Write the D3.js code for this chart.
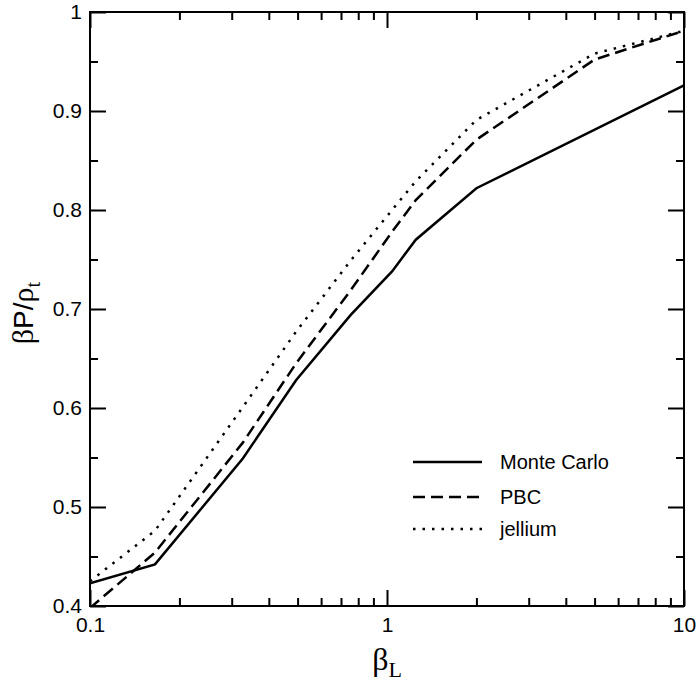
<!DOCTYPE html>
<html>
<head>
<meta charset="utf-8">
<script src="https://cdn.jsdelivr.net/npm/d3@7"></script>
<style>
  html, body { margin: 0; padding: 0; background: #fff; }
  svg { display: block; }
</style>
</head>
<body>
<svg id="chart" width="700" height="681"></svg>
<script>
// ---- data ----
const xMC = [0.1, 0.1655, 0.327, 0.494, 0.755, 1.04, 1.25, 2.0, 10];
const yMC = [0.423, 0.442, 0.549, 0.628, 0.694, 0.738, 0.770, 0.822, 0.926];
const xPBC = [0.1, 0.1655, 0.327, 0.494, 0.755, 1.04, 1.25, 2.0, 5.0, 10];
const yPBC = [0.398, 0.454, 0.565, 0.645, 0.719, 0.778, 0.810, 0.871, 0.952, 0.981];
const xJel = [0.1, 0.1655, 0.327, 0.494, 0.755, 1.04, 1.25, 2.0, 5.0, 10];
const yJel = [0.425, 0.476, 0.601, 0.677, 0.749, 0.800, 0.829, 0.891, 0.958, 0.981];
const seriesNames = ["Monte Carlo", "PBC", "jellium"];
const xMajorTicks = [0.1, 1, 10];
const xTickLabels = ["0.1", "1", "10"];
const yMajorTicks = [0.4, 0.5, 0.6, 0.7, 0.8, 0.9, 1.0];
const yTickLabels = ["0.4", "0.5", "0.6", "0.7", "0.8", "0.9", "1"];
const yMinorTicks = [0.45, 0.55, 0.65, 0.75, 0.85, 0.95];

const svg = d3.select("#chart");
const L = 90, R = 684, T = 12, B = 606;
const x = d3.scaleLog().domain([0.1, 10]).range([L, R]);
const y = d3.scaleLinear().domain([0.4, 1.0]).range([B, T]);

const xMinor = [];
[0.1, 1].forEach(d => { for (let k = 2; k <= 9; k++) xMinor.push(d * k); });

const sans = "'Liberation Sans', Arial, Helvetica, sans-serif";
const serif = "'Liberation Serif', 'Times New Roman', serif";

function styleAxis(g) {
  g.select(".domain").remove();
  g.selectAll(".tick line").attr("stroke", "#000").attr("stroke-width", 2);
  g.selectAll(".tick text").attr("font-family", sans).attr("font-size", 21).attr("fill", "#000");
}

// bottom
svg.append("g").attr("transform", `translate(0,${B})`)
  .call(d3.axisBottom(x).tickValues(xMajorTicks).tickSize(-16).tickPadding(11)
    .tickFormat((d, i) => xTickLabels[i])).call(styleAxis);
svg.append("g").attr("transform", `translate(0,${B})`)
  .call(d3.axisBottom(x).tickValues(xMinor).tickSize(-8).tickFormat("")).call(styleAxis);
// top
svg.append("g").attr("transform", `translate(0,${T})`)
  .call(d3.axisTop(x).tickValues(xMajorTicks).tickSize(-16).tickFormat("")).call(styleAxis);
svg.append("g").attr("transform", `translate(0,${T})`)
  .call(d3.axisTop(x).tickValues(xMinor).tickSize(-8).tickFormat("")).call(styleAxis);
// left
svg.append("g").attr("transform", `translate(${L},0)`)
  .call(d3.axisLeft(y).tickValues(yMajorTicks).tickSize(-16).tickPadding(8)
    .tickFormat((d, i) => yTickLabels[i])).call(styleAxis);
svg.append("g").attr("transform", `translate(${L},0)`)
  .call(d3.axisLeft(y).tickValues(yMinorTicks).tickSize(-8).tickFormat("")).call(styleAxis);
// right
svg.append("g").attr("transform", `translate(${R},0)`)
  .call(d3.axisRight(y).tickValues(yMajorTicks).tickSize(-16).tickFormat("")).call(styleAxis);
svg.append("g").attr("transform", `translate(${R},0)`)
  .call(d3.axisRight(y).tickValues(yMinorTicks).tickSize(-8).tickFormat("")).call(styleAxis);

// frame
svg.append("rect").attr("x", L).attr("y", T).attr("width", R - L).attr("height", B - T)
  .attr("fill", "none").attr("stroke", "#000").attr("stroke-width", 2);

// series
const line = d3.line().x(d => x(d[0])).y(d => y(d[1]));
const series = [
  { name: seriesNames[0], xs: xMC, ys: yMC, dash: null },
  { name: seriesNames[1], xs: xPBC, ys: yPBC, dash: "12,6" },
  { name: seriesNames[2], xs: xJel, ys: yJel, dash: "2.5,7" }
];
svg.append("clipPath").attr("id", "clip").append("rect")
  .attr("x", L).attr("y", T).attr("width", R - L).attr("height", B - T);
series.forEach(s => {
  const pts = s.xs.map((v, i) => [v, s.ys[i]]);
  svg.append("path").datum(pts).attr("d", line)
    .attr("fill", "none").attr("stroke", "#000").attr("stroke-width", 2.5)
    .attr("clip-path", "url(#clip)")
    .attr("stroke-dasharray", s.dash);
});

// legend
const legY = [462, 497, 529];
series.forEach((s, i) => {
  svg.append("line").attr("x1", 413).attr("x2", 482).attr("y1", legY[i]).attr("y2", legY[i])
    .attr("stroke", "#000").attr("stroke-width", 2.5).attr("stroke-dasharray", s.dash);
  svg.append("text").attr("x", 500).attr("y", legY[i]).attr("dy", "0.36em")
    .attr("font-family", sans).attr("font-size", 20).text(s.name);
});

// x label
const xl = svg.append("text").attr("x", 387).attr("y", 670).attr("text-anchor", "middle");
xl.append("tspan").attr("font-family", serif).attr("font-size", 32).text("β");
xl.append("tspan").attr("font-family", serif).attr("font-size", 22).attr("dy", 7).text("L");

// y label
const yl = svg.append("text").attr("transform", "translate(33,313) rotate(-90)").attr("text-anchor", "middle");
yl.append("tspan").attr("font-family", serif).attr("font-size", 30).text("β");
yl.append("tspan").attr("font-family", sans).attr("font-size", 28).text("P/");
yl.append("tspan").attr("font-family", serif).attr("font-size", 30).text("ρ");
yl.append("tspan").attr("font-family", serif).attr("font-size", 20).attr("dy", 7).text("t");
</script>
</body>
</html>
